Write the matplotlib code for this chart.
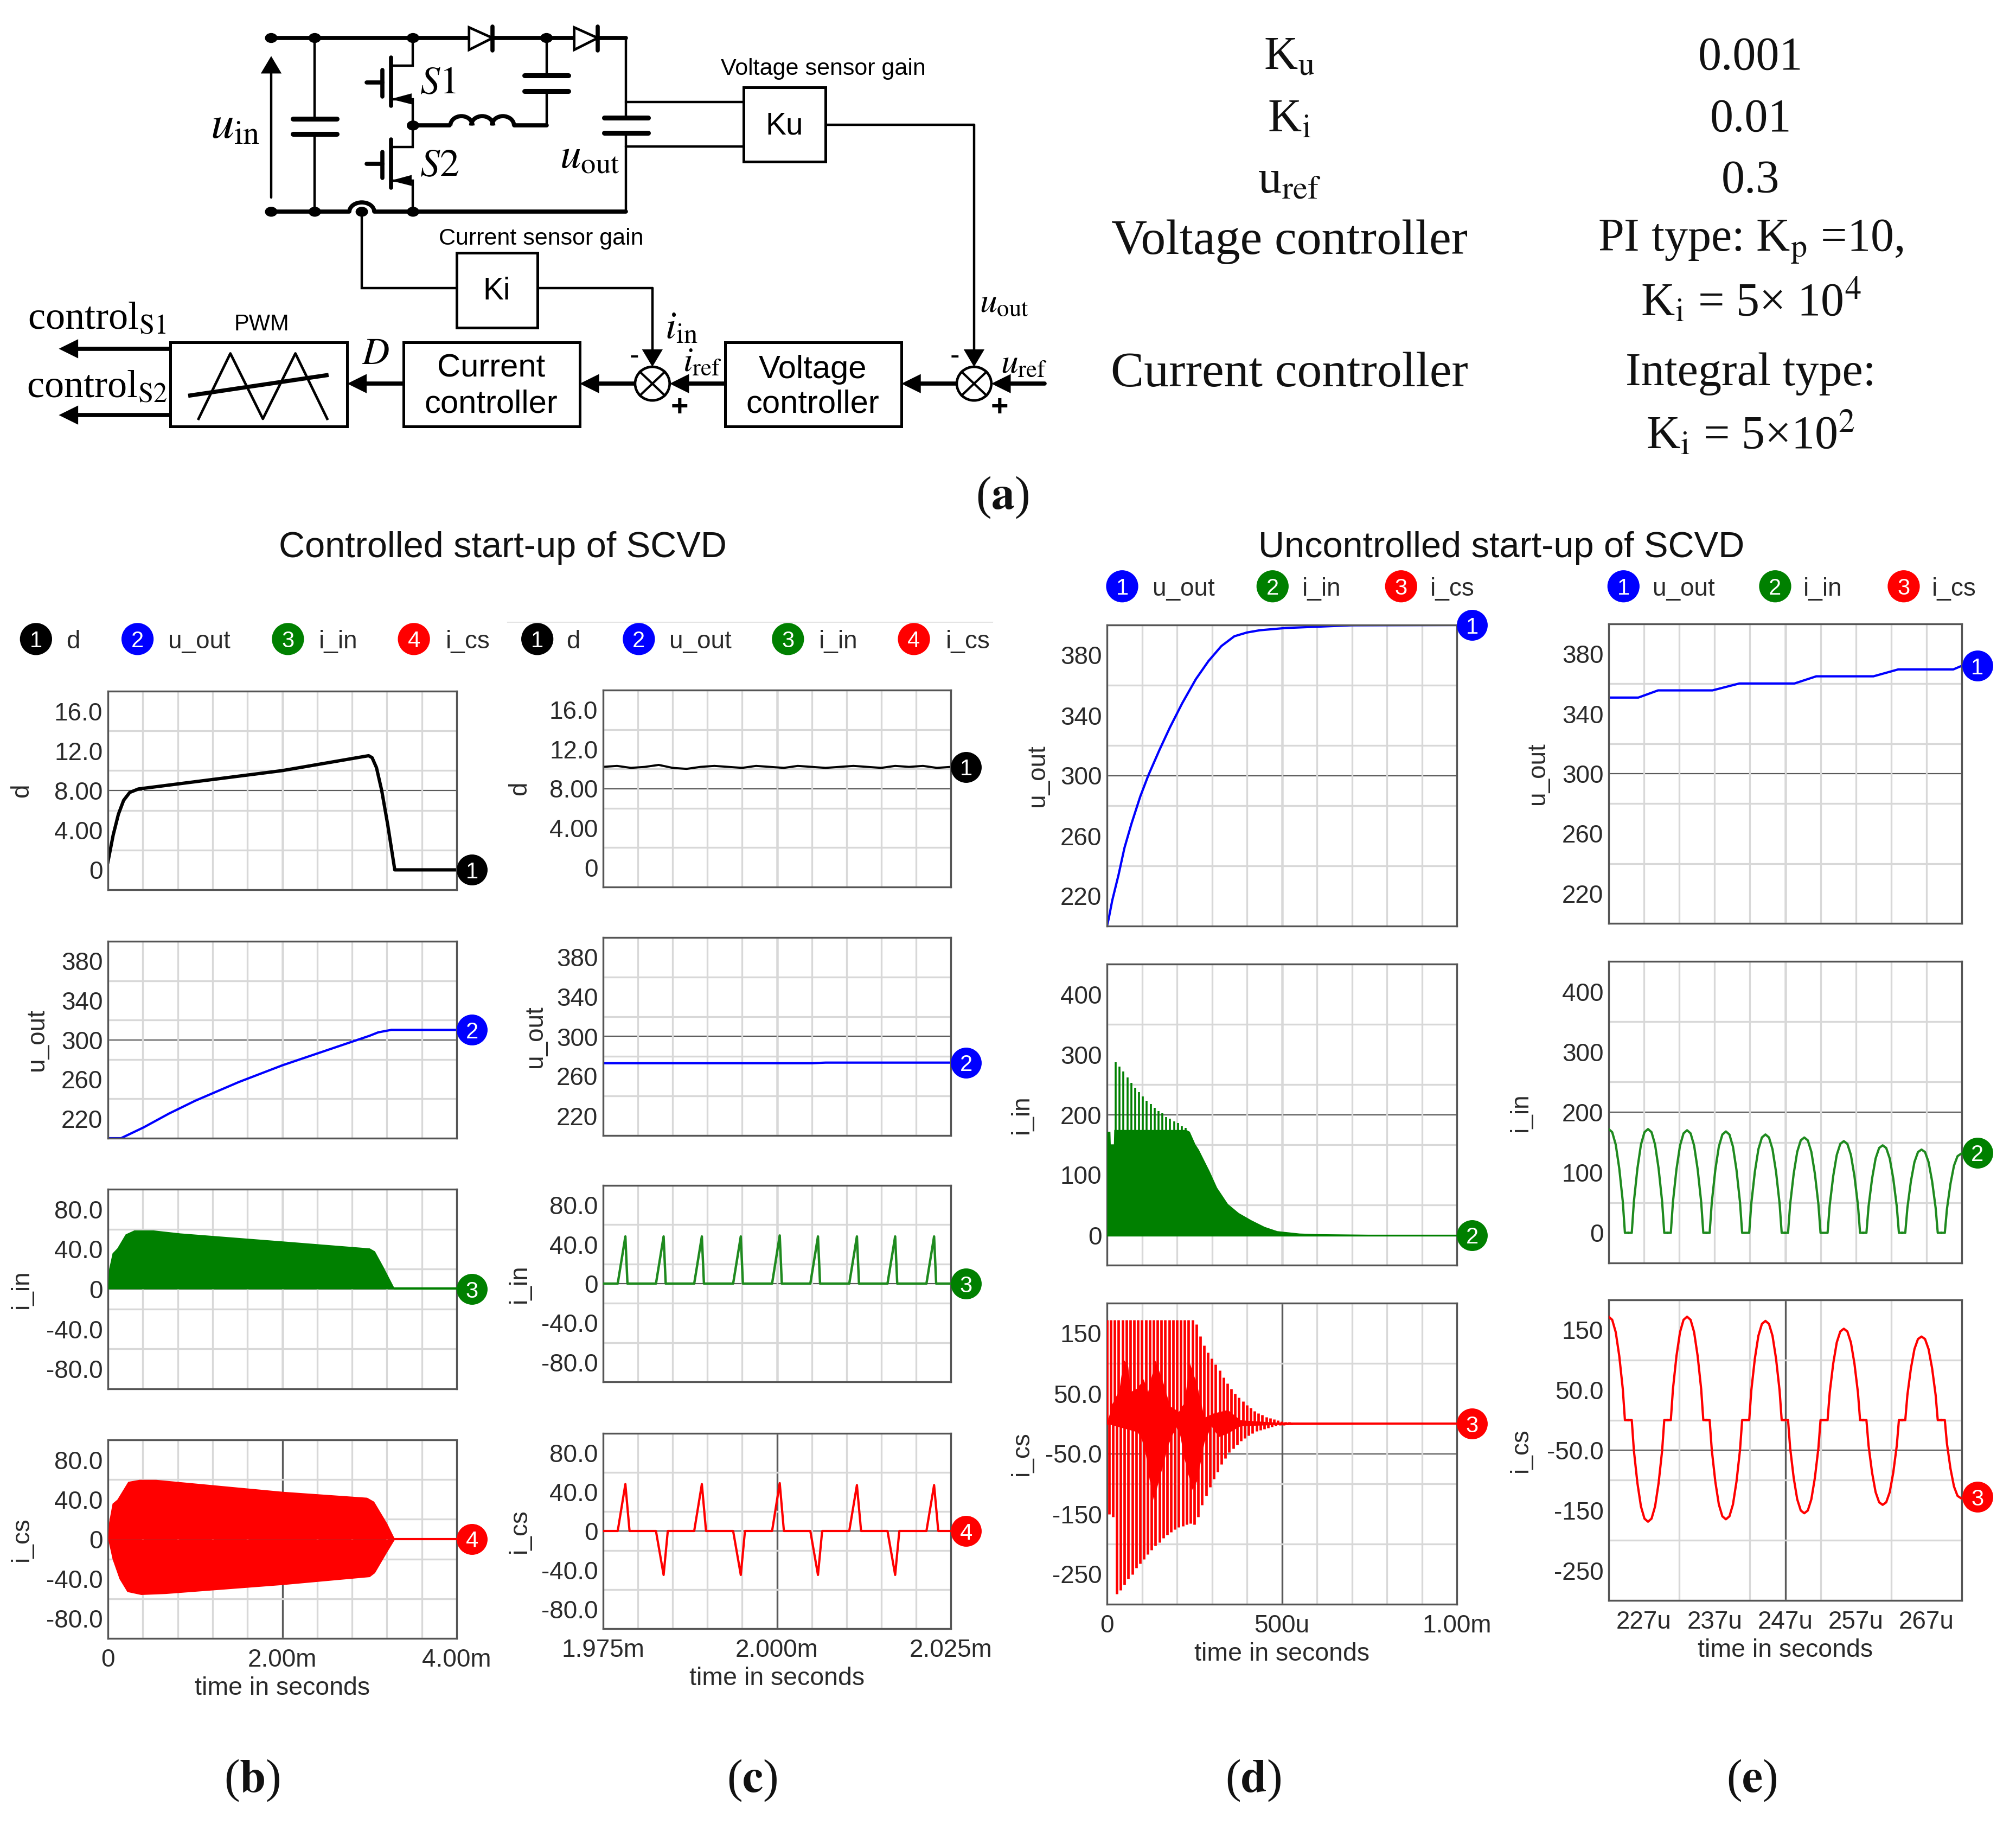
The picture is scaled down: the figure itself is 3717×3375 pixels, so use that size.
import matplotlib
matplotlib.use("Agg")
import matplotlib.pyplot as plt
import numpy as np
from matplotlib.patches import Arc, Circle, Ellipse, Polygon, Rectangle

plt.rcParams['font.family'] = ['Liberation Sans', 'DejaVu Sans']
plt.rcParams['mathtext.fontset'] = 'stix'

W, H = 3717, 3375
PX = 2.37  # full size pixels per unit of the overlay

# (b) controlled start-up, time in ms
b_d_t = [0, 0.06, 0.12, 0.18, 0.25, 0.35, 2.0, 2.99, 3.03, 3.08, 3.14, 3.21, 3.29, 4.0]
b_d = [0.8, 3.5, 5.6, 7.0, 7.8, 8.15, 10.0, 11.5, 11.3, 10.3, 8.0, 4.5, 0, 0]
b_u_t = [0, 0.15, 0.41, 0.7, 1.0, 1.5, 2.0, 2.5, 2.9, 3.0, 3.1, 3.25, 4.0]
b_u = [200, 200, 211, 225, 238, 257, 274, 289, 301, 304, 307.5, 310, 310]
b_in_t = [0, 0.01, 0.05, 0.105, 0.2, 0.3, 0.52, 0.83, 2.0, 3.0, 3.06, 3.16, 3.29, 4.0]
b_in = [0, 20, 36, 41, 55, 59, 59, 56, 48, 41, 38, 22, 0, 0]
b_up_t = [0, 0.01, 0.05, 0.105, 0.23, 0.36, 0.55, 2.0, 2.97, 3.05, 3.2, 3.29, 4.0]
b_up = [0, 17, 36, 40, 58, 60, 60, 48, 42, 38, 16, 0, 0]
b_lo_t = [0, 0.05, 0.13, 0.22, 0.38, 0.66, 2.0, 3.0, 3.06, 3.2, 3.29, 4.0]
b_lo = [0, -20, -40, -53, -56, -55, -46, -38, -34, -13, 0, 0]

# (c) controlled, zoomed, time in us after 1975
c_d_t = [0, 2, 4, 6, 8, 10, 12, 14, 16, 18, 20, 22, 24, 26, 28, 30, 32, 34, 36, 38, 40, 42, 44, 46, 48, 50]
c_d = [10.2, 10.3, 10.1, 10.2, 10.4, 10.1, 10.0, 10.2, 10.3, 10.2, 10.1, 10.3, 10.2, 10.1, 10.3, 10.2,
       10.1, 10.2, 10.3, 10.2, 10.1, 10.3, 10.2, 10.3, 10.1, 10.2]
c_u_t = [0, 30, 32, 50]
c_u = [273, 273, 273.6, 273.6]
c_in_peak_t = [3.2, 8.7, 14.2, 19.8, 25.4, 30.9, 36.5, 42.0, 47.6]
c_in_peak = [48, 48, 48, 48, 49, 48, 48, 48, 48]
c_cs_peak_t = [3.2, 8.7, 14.2, 19.8, 25.4, 30.9, 36.5, 42.0, 47.6]
c_cs_peak = [48, -45, 48, -45, 49, -45, 47, -45, 47]

# (d) uncontrolled start-up, time in us
d_u_t = [0, 5, 15, 33, 50, 70, 95, 118, 150, 180, 215, 254, 290, 327, 364, 400, 437, 511, 700, 1000]
d_u = [200, 205, 217, 234, 252, 268, 286, 300, 317, 332, 348, 364, 376, 386, 392.5, 395, 396.5, 398, 399.8, 400]
d_in_t = [0, 9, 10, 19, 20, 226, 236, 252, 262, 293, 314, 345, 376, 412, 450, 486, 550, 600, 800, 1000]
d_in = [172, 172, 151, 151, 175, 175, 172, 151, 142, 106, 79, 52, 37, 25, 14, 7, 3, 2, 0.5, 0]
d_in_teeth = [287, 280, 272, 262, 253, 245, 237, 230, 223, 218, 211, 206, 202, 196, 193, 189, 186, 181, 178]
d_cs_up = [172] * 23 + [165, 145, 130, 118, 108, 98, 88, 77, 67, 58, 50, 43, 37, 31, 26, 21, 17, 14, 11, 9, 7,
                        5, 4, 3, 3, 2, 2, 1]
d_cs_low = [-150, -155, -283, -277, -268, -258, -250, -240, -232, -225, -217, -210, -203, -197, -190, -185, -180,
            -176, -172, -170, -168, -166, -168, -155, -135, -120, -105, -92, -80, -68, -58, -48, -41, -35, -29,
            -24, -20, -16, -13, -11, -9, -7, -5, -4, -3, -3, -2, -2, -1, -1, -1]
d_hi_t = [0, 14, 35, 47, 60, 68, 87, 104, 117, 138, 159, 180, 205, 221, 236, 257, 278, 303, 345, 381, 430, 486, 1000]
d_hi = [0, 32, 56, 107, 95, 53, 59, 74, 53, 105, 71, 29, 20, 35, 101, 65, 10, 17, 23, 6, 4, 2, 1]
d_lo_t = [0, 87, 99, 110, 121, 133, 150, 175, 197, 209, 221, 234, 244, 257, 278, 298, 319, 345, 381, 430, 486, 1000]
d_lo = [0, -14, -26, -49, -92, -127, -90, -35, -5, -20, -58, -89, -110, -95, -31, -4, -22, -16, -4, -3, -2, -1]

# (e) uncontrolled, zoomed, time in us
e_u_t = [222, 226.2, 229, 236.7, 240.5, 248.3, 251.4, 259.5, 263, 270.8, 272]
e_u = [350.8, 350.8, 355.6, 355.6, 360.2, 360.2, 365, 365, 369.6, 369.6, 372]
e_peak_t = [222, 227.57, 233.1, 238.6, 244.2, 249.7, 255.3, 260.8, 266.3, 271.9]
e_in_peak = [172, 172, 170, 168, 163, 158, 152, 145, 138, 131]
e_cs_peak = [172, -169, 172, -165, 165, -155, 152, -141, 139, -130]
e_arch_off = [-2.8, -2.3, -2.0, -1.5, -1.0, -0.5, 0, 0.5, 1.0, 1.5, 2.0, 2.3, 2.8]
e_arch_frac = [0, 0, 0.3, 0.62, 0.85, 0.97, 1, 0.97, 0.85, 0.62, 0.3, 0, 0]

D_TICKS = [0, 4, 8, 12, 16]
D_LABELS = ['0', '4.00', '8.00', '12.0', '16.0']
U_TICKS = [220, 260, 300, 340, 380]
I_TICKS = [-80, -40, 0, 40, 80]
I_LABELS = ['-80.0', '-40.0', '0', '40.0', '80.0']
IN_TICKS = [0, 100, 200, 300, 400]
CS_TICKS = [-250, -150, -50, 50, 150]
CS_LABELS = ['-250', '-150', '-50.0', '50.0', '150']

BLACK, BLUE, GREEN, RED = '#000000', '#0000ff', '#008000', '#ff0000'
TXT = '#2a2a2a'

fig = plt.figure(figsize=(W / 100, H / 100), dpi=100)


def panel(box, ylim, yticks, ylabels, xlim, name, label_x, xticks=None, xlabels=None):
    l, r, t, b = box
    ax = fig.add_axes([l / W, 1 - b / H, (r - l) / W, (b - t) / H])
    ax.set_xlim(xlim)
    ax.set_ylim(ylim)
    ax.set_xticks(np.linspace(xlim[0], xlim[1], 11), minor=True)
    ax.set_yticks(np.linspace(ylim[0], ylim[1], 11), minor=True)
    ax.grid(which='minor', color='#d8d8d8', lw=2.4)
    ax.axvline(sum(xlim) / 2, color='#5a5a5a', lw=2.4, zorder=1)
    ax.axhline(sum(ylim) / 2, color='#5a5a5a', lw=1.6, zorder=1)
    ax.set_yticks(yticks)
    ax.set_yticklabels(ylabels, fontsize=33, color=TXT)
    ax.set_xticks(xticks if xticks is not None else [])
    if xlabels is not None:
        ax.set_xticklabels(xlabels, fontsize=33, color=TXT)
        ax.set_xlabel('time in seconds', fontsize=33.5, color=TXT, labelpad=6)
    ax.tick_params(which='both', length=0, pad=7)
    ax.tick_params(axis='x', pad=13)
    ax.set_ylabel(name, fontsize=33, color=TXT)
    ax.yaxis.set_label_coords(label_x + 0.03, 0.5)
    for s in ax.spines.values():
        s.set_color('#555555')
        s.set_linewidth(2.4)
    return ax


def end_marker(ax, val, num, color):
    ax.plot([1.044], [val], transform=ax.get_yaxis_transform(), marker='o', ms=41, color=color,
            clip_on=False, zorder=6, mew=0)
    ax.text(1.044, val, str(num), transform=ax.get_yaxis_transform(), color='white', fontsize=30,
            ha='center', va='center_baseline', zorder=7, clip_on=False)


def spikes(peak_t, peak, up, down):
    # saw shaped pulses on a flat zero line
    xs, ys = [], []
    for t, p in zip(peak_t, peak):
        xs += [t - up, t, t + down]
        ys += [0, p, 0]
    return xs, ys


def arches(peak_t, peak, off, frac):
    xs, ys = [], []
    for t, p in zip(peak_t, peak):
        for o, f in zip(off, frac):
            if 222 <= t + o <= 272:
                xs.append(t + o)
                ys.append(p * f)
    return xs, ys


# panel (b)
XB = (0, 4)
bx = (199, 842)
ax = panel((*bx, 1274, 1640), (-2, 18), D_TICKS, D_LABELS, XB, 'd', -0.243)
ax.plot(b_d_t, b_d, color=BLACK, lw=4.4)
end_marker(ax, 0, 1, BLACK)
ax = panel((*bx, 1735, 2098), (200, 400), U_TICKS, U_TICKS, XB, 'u_out', -0.2)
ax.plot(b_u_t, b_u, color=BLUE, lw=3)
end_marker(ax, 310, 2, BLUE)
ax = panel((*bx, 2192, 2560), (-100, 100), I_TICKS, I_LABELS, XB, 'i_in', -0.243)
ax.fill_between(b_in_t, 0, b_in, color=GREEN, lw=0, zorder=3)
ax.plot([3.29, 4], [0.5, 0.5], color=GREEN, lw=3, zorder=3)
end_marker(ax, 0, 3, GREEN)
ax = panel((*bx, 2654, 3020), (-100, 100), I_TICKS, I_LABELS, XB, 'i_cs', -0.243,
           [0, 2, 4], ['0', '2.00m', '4.00m'])
ax.fill_between(b_up_t, 0, b_up, color=RED, lw=0, zorder=3)
ax.fill_between(b_lo_t, 0, b_lo, color=RED, lw=0, zorder=3)
ax.plot([3.29, 4], [0, 0], color=RED, lw=3, zorder=3)
end_marker(ax, 0, 4, RED)

# panel (c)
XC = (0, 50)
cx = (1112, 1753)
ax = panel((*cx, 1272, 1635), (-2, 18), D_TICKS, D_LABELS, XC, 'd', -0.236)
ax.plot(c_d_t, c_d, color=BLACK, lw=2.8)
end_marker(ax, 10.2, 1, BLACK)
ax = panel((*cx, 1728, 2093), (200, 400), U_TICKS, U_TICKS, XC, 'u_out', -0.19)
ax.plot(c_u_t, c_u, color=BLUE, lw=3)
end_marker(ax, 273.6, 2, BLUE)
ax = panel((*cx, 2185, 2547), (-100, 100), I_TICKS, I_LABELS, XC, 'i_in', -0.236)
xs, ys = spikes(c_in_peak_t, c_in_peak, 1.1, 0.3)
ax.plot([0] + xs + [50], [0] + ys + [0], color='#1f8a1f', lw=3.2, zorder=3)
end_marker(ax, 0, 3, GREEN)
ax = panel((*cx, 2642, 3002), (-100, 100), I_TICKS, I_LABELS, XC, 'i_cs', -0.236,
           [0, 25, 50], ['1.975m', '2.000m', '2.025m'])
xs, ys = spikes(c_cs_peak_t, c_cs_peak, 1.1, 0.6)
ax.plot([0] + xs + [50], [0] + ys + [0], color=RED, lw=3, zorder=3)
end_marker(ax, 0, 4, RED)

# panel (d)
XD = (0, 1000)
dx = (2041, 2686)
ax = panel((*dx, 1152, 1707), (200, 400), U_TICKS, U_TICKS, XD, 'u_out', -0.195)
ax.plot(d_u_t, d_u, color=BLUE, lw=3)
end_marker(ax, 400, 1, BLUE)
ax = panel((*dx, 1777, 2332), (-50, 450), IN_TICKS, IN_TICKS, XD, 'i_in', -0.24)
ax.vlines(25 + 11.1 * np.arange(len(d_in_teeth)), 0, d_in_teeth, color=GREEN, lw=2.6, zorder=3)
ax.fill_between(d_in_t, 0, d_in, color=GREEN, lw=0, zorder=4)
ax.plot(XD, [0, 0], color=GREEN, lw=2.4, zorder=4)
end_marker(ax, 0, 2, GREEN)
ax = panel((*dx, 2402, 2957), (-300, 200), CS_TICKS, CS_LABELS, XD, 'i_cs', -0.24,
           [0, 500, 1000], ['0', '500u', '1.00m'])
ax.vlines(11.1 * np.arange(len(d_cs_up)), 0, d_cs_up, color=RED, lw=3.4, zorder=3)
ax.vlines(5.5 + 11.1 * np.arange(len(d_cs_low)), 0, d_cs_low, color=RED, lw=3.4, zorder=3)
ax.fill_between(d_hi_t, 0, d_hi, color=RED, lw=0, zorder=3)
ax.fill_between(d_lo_t, 0, d_lo, color=RED, lw=0, zorder=3)
ax.plot(XD, [0, 0], color=RED, lw=2.8, zorder=3)
end_marker(ax, 0, 3, RED)

# panel (e)
XE = (222, 272)
ex = (2966, 3617)
ax = panel((*ex, 1150, 1702), (200, 400), U_TICKS, U_TICKS, XE, 'u_out', -0.197)
ax.plot(e_u_t, e_u, color=BLUE, lw=3)
end_marker(ax, 372, 1, BLUE)
ax = panel((*ex, 1772, 2328), (-50, 450), IN_TICKS, IN_TICKS, XE, 'i_in', -0.245)
xs, ys = arches(e_peak_t, e_in_peak, e_arch_off, e_arch_frac)
ax.plot(xs, ys, color='#1f8a1f', lw=3, zorder=3)
end_marker(ax, 133, 2, GREEN)
ax = panel((*ex, 2396, 2950), (-300, 200), CS_TICKS, CS_LABELS, XE, 'i_cs', -0.245,
           [227, 237, 247, 257, 267], ['227u', '237u', '247u', '257u', '267u'])
xs, ys = arches(e_peak_t, e_cs_peak, e_arch_off, e_arch_frac)
ax.plot(xs, ys, color=RED, lw=3, zorder=3)
end_marker(ax, -128, 3, RED)

# texts and legends over everything
ov = fig.add_axes([0, 0, 1, 1], facecolor='none')
ov.set_xlim(0, W / PX)
ov.set_ylim(H / PX, 0)
ov.axis('off')


def legend_row(y, circles, labels, numbers, names, colors):
    for cx_, lx, num, name, col in zip(circles, labels, numbers, names, colors):
        ov.add_patch(Circle((cx_, y), 12.5, color=col, lw=0))
        ov.text(cx_, y, str(num), color='white', fontsize=30, ha='center', va='center_baseline')
        ov.text(lx, y, name, color=TXT, fontsize=33, ha='center', va='center_baseline')


legend_row(497, [28, 107, 224, 322], [57, 155, 263, 364], [1, 2, 3, 4],
           ['d', 'u_out', 'i_in', 'i_cs'], [BLACK, BLUE, GREEN, RED])
legend_row(497, [418, 497, 613, 711], [446, 545, 652, 753], [1, 2, 3, 4],
           ['d', 'u_out', 'i_in', 'i_cs'], [BLACK, BLUE, GREEN, RED])
legend_row(456, [873, 990, 1090], [921, 1028, 1130], [1, 2, 3],
           ['u_out', 'i_in', 'i_cs'], [BLUE, GREEN, RED])
legend_row(456, [1263, 1381, 1481], [1310, 1418, 1520], [1, 2, 3],
           ['u_out', 'i_in', 'i_cs'], [BLUE, GREEN, RED])
ov.plot([395, 772], [484, 484], color='#e4e4e4', lw=1.5)

ov.text(391, 426, 'Controlled start-up of SCVD', fontsize=48, color='#111111', ha='center', va='center')
ov.text(1168, 426, 'Uncontrolled start-up of SCVD', fontsize=48, color='#111111', ha='center', va='center')

SERIF = ['Liberation Serif', 'DejaVu Serif']
table_rows = [
    (1003, 45, r'K$_{\mathrm{u}}$', 62), (1362, 45, '0.001', 62),
    (1003, 93, r'K$_{\mathrm{i}}$', 62), (1362, 93, '0.01', 62),
    (1003, 141, r'u$_{\mathrm{ref}}$', 62), (1362, 141, '0.3', 62),
    (1003, 188, 'Voltage controller', 66), (1362, 188, r'PI type: K$_{\mathrm{p}}$ =10,', 62),
    (1362, 235, r'K$_{\mathrm{i}}$ = 5× 10$^{4}$', 62),
    (1003, 291, 'Current controller', 66), (1362, 291, 'Integral type:', 62),
    (1362, 338, r'K$_{\mathrm{i}}$ = 5×10$^{2}$', 62),
]
for x, y, s, fs in table_rows:
    ov.text(x, y, s, family=SERIF, fontsize=fs, color='#111111', ha='center', va='center')

for x, y, s in [(780, 387, 'a'), (196, 1385, 'b'), (585, 1385, 'c'), (975, 1385, 'd'), (1363, 1385, 'e')]:
    ov.text(x, y, '(' + r'$\mathbf{' + s + '}$' + ')', family=SERIF, fontsize=62, color='#111111',
            ha='center', va='center')

# schematic, drawn in its own pixel grid
sc = fig.add_axes([0, 1 - 900 / H, 2000 / W, 900 / H], facecolor='none')
sc.set_xlim(0, 1568)
sc.set_ylim(1568, 0)
sc.axis('off')
THICK, THIN = 5.5, 3.2


def wire(xs, ys, lw=THIN):
    sc.plot(xs, ys, color='black', lw=lw, solid_capstyle='round', solid_joinstyle='miter')


def arrow(x0, y0, x1, y1, size=28):
    dx_, dy_ = np.sign(x1 - x0), np.sign(y1 - y0)
    wire([x0, x1 - dx_ * size], [y0, y1 - dy_ * size], THICK if dx_ else THIN)
    # the grid is squeezed vertically, so heads differ by direction
    sc.add_patch(Polygon([(x1, y1),
                          (x1 - dx_ * size - dy_ * 15, y1 - dy_ * size * 2 - dx_ * size * 1.1),
                          (x1 - dx_ * size + dy_ * 15, y1 - dy_ * size * 2 + dx_ * size * 1.1)],
                         color='black', lw=0, zorder=5))


def dot(x, y):
    sc.add_patch(Ellipse((x, y), 18, 32, color='black', lw=0, zorder=5))


def cap(x, y0, y1, top, bottom, half=32):
    wire([x, x], [y0, top])
    wire([x - half, x + half], [top, top], THICK + 1)
    wire([x - half, x + half], [bottom, bottom], THICK + 1)
    wire([x, x], [bottom, y1])


def box(x0, x1, y0, y1):
    sc.add_patch(Rectangle((x0, y0), x1 - x0, y1 - y0, fc='white', ec='black', lw=3.6, zorder=4))


def mosfet(dy):
    wire([597, 597, 565], [122 if dy == 0 else 403, 210 + dy, 210 + dy])
    wire([565, 565], [185 + dy, 340 + dy], THICK)
    wire([553, 553], [225 + dy, 310 + dy], THICK)
    wire([530, 553], [265 + dy, 265 + dy], THICK)
    wire([565, 597, 597], [318 + dy, 318 + dy, 403 if dy == 0 else 680])
    sc.add_patch(Polygon([(565, 318 + dy), (595, 300 + dy), (595, 335 + dy)], color='black', lw=0))


def summer(x, y):
    sc.add_patch(Ellipse((x, y), 50, 108, fc='white', ec='black', lw=3.4, zorder=4))
    sc.plot([x - 18, x + 18], [y - 38, y + 38], color='black', lw=3, zorder=5)
    sc.plot([x - 18, x + 18], [y + 38, y - 38], color='black', lw=3, zorder=5)


wire([392, 905], [122, 122], THICK)
wire([392, 505], [680, 680], THICK)
wire([541, 905], [680, 680], THICK)
sc.add_patch(Arc((523, 680), 36, 60, theta1=180, theta2=360, color='black', lw=THICK))
for x, y in [(392, 122), (455, 122), (597, 122), (790, 122), (392, 680), (455, 680), (523, 680), (597, 680),
             (597, 403)]:
    dot(x, y)
for x0 in (678, 830):
    sc.add_patch(Polygon([(x0, 88), (x0, 160), (x0 + 34, 122)], fc='white', ec='black', lw=3.4, zorder=4))
    wire([x0 + 34, x0 + 34], [85, 162], THICK)
arrow(392, 635, 392, 180)
cap(455, 122, 680, 382, 430)
cap(790, 122, 403, 242, 292)
cap(905, 122, 680, 378, 427)
mosfet(0)
mosfet(262)
wire([597, 650], [403, 403], THICK)
for cx_ in (667, 697, 727):
    sc.add_patch(Arc((cx_, 403), 32, 60, theta1=180, theta2=360, color='black', lw=THICK))
wire([743, 790], [403, 403], THICK)
wire([905, 1075], [327, 327])
wire([905, 1075], [470, 470])
wire([1193, 1408], [400, 400])
arrow(1408, 400, 1408, 1178)
wire([523, 523, 660], [680, 925, 925])
wire([777, 943], [925, 925])
arrow(943, 925, 943, 1178)
box(1075, 1193, 280, 520)
box(660, 777, 812, 1052)
box(246, 502, 1100, 1370)
box(583, 838, 1100, 1370)
box(1048, 1303, 1100, 1370)
summer(943, 1232)
summer(1408, 1232)
arrow(1510, 1232, 1433, 1232)
arrow(1383, 1232, 1303, 1232)
arrow(1048, 1232, 968, 1232)
arrow(918, 1232, 838, 1232)
arrow(583, 1232, 502, 1232)
arrow(246, 1120, 85, 1120)
arrow(246, 1333, 85, 1333)
sc.plot([287, 333, 380, 427, 473], [1345, 1135, 1345, 1135, 1345], color='black', lw=3.4, zorder=5)
sc.plot([275, 472], [1270, 1205], color='black', lw=THICK, zorder=5)

for x, y, s, fs in [(1190, 222, 'Voltage sensor gain', 31), (782, 767, 'Current sensor gain', 31),
                    (378, 1042, 'PWM', 30), (1134, 405, 'Ku', 41), (718, 935, 'Ki', 41),
                    (710, 1183, 'Current', 43), (710, 1298, 'controller', 43),
                    (1175, 1188, 'Voltage', 43), (1175, 1298, 'controller', 43),
                    (917, 1145, '-', 38), (1380, 1145, '-', 38)]:
    sc.text(x, y, s, fontsize=fs, color='black', ha='center', va='center', zorder=6)
for x, y, s in [(982, 1310, '+'), (1445, 1310, '+')]:
    sc.text(x, y, s, fontsize=40, fontweight='bold', color='black', ha='center', va='center', zorder=6)
for x, y, s, fs in [(340, 405, r'$u_{\mathrm{in}}$', 62), (852, 505, r'$u_{\mathrm{out}}$', 56),
                    (633, 270, r'$S1$', 52), (635, 535, r'$S2$', 52), (543, 1140, r'$D$', 50),
                    (985, 1055, r'$i_{\mathrm{in}}$', 52), (1015, 1165, r'$i_{\mathrm{ref}}$', 46),
                    (1452, 975, r'$u_{\mathrm{out}}$', 46), (1480, 1170, r'$u_{\mathrm{ref}}$', 46),
                    (140, 1025, r'control$_{\mathrm{S1}}$', 52), (140, 1245, r'control$_{\mathrm{S2}}$', 52)]:
    sc.text(x, y, s, family=SERIF, fontsize=fs, color='black', ha='center', va='center', zorder=6)

fig.savefig('out.png', dpi=100, facecolor='white')
